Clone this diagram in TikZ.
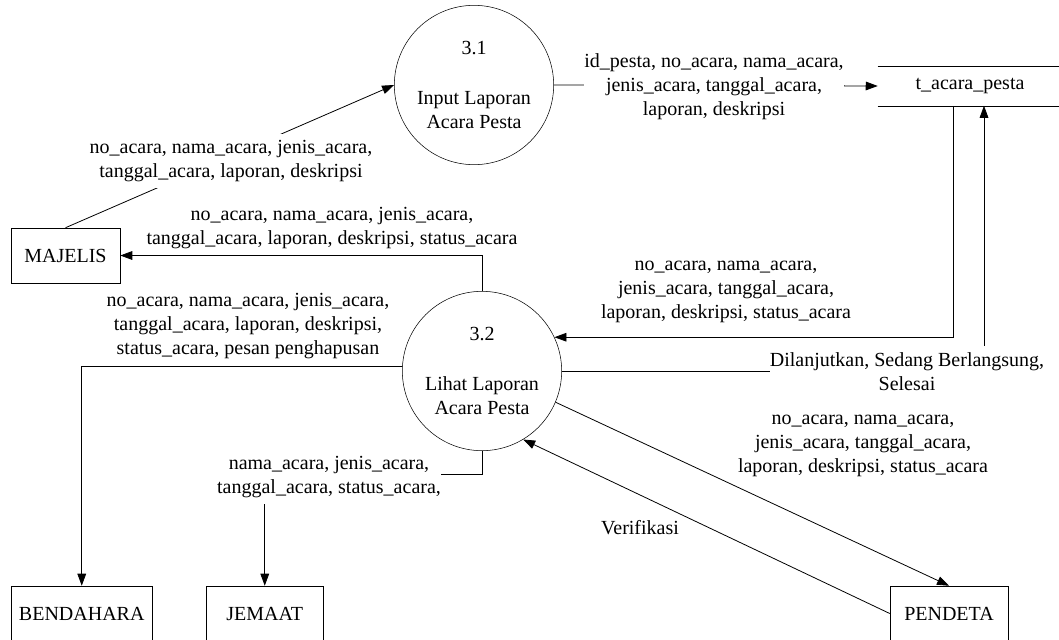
\documentclass[tikz,border=0pt]{standalone}
\usepackage{fontspec}
\setmainfont{Liberation Serif}
\usetikzlibrary{positioning,arrows.meta}

\begin{document}
\begin{tikzpicture}[x=0.75pt,y=0.75pt,font=\fontsize{15}{18}\selectfont]
	\tikzstyle{every node}+=[inner sep=0pt]
	\tikzstyle{proses}=[draw,circle,minimum size=119.5pt,align=center]
	\tikzstyle{entitas}=[draw,rectangle,minimum height=41.25pt]
	\tikzstyle{ket}=[fill=white,align=center,inner ysep=5pt]
	\tikzstyle{aliran}=[-{Triangle[length=9pt,width=6.5pt]},line width=0.6pt]
	\useasboundingbox (0,0) rectangle (1059,-639);
	\node [proses] (p31) at (474,-85) {3.1\\[19pt]Input Laporan\\Acara Pesta};
	\node [proses] (p32) at (482,-371) {3.2\\[19pt]Lihat Laporan\\Acara Pesta};
	\node [entitas,minimum width=81.75pt] (majelis) at (65.5,-255.5) {MAJELIS};
	\node [entitas,minimum width=105.4pt] (bendahara) at (81.75,-613.5) {BENDAHARA};
	\node [entitas,minimum width=87.4pt] (jemaat) at (264.75,-613.5) {JEMAAT};
	\node [entitas,minimum width=88.5pt] (pendeta) at (949,-613.5) {PENDETA};
	\node [minimum width=138pt,minimum height=29.25pt] (store) at (970,-86) {t\_acara\_pesta};
	\draw (store.north west) -- (store.north east);
	\draw (store.south west) -- (store.south east);
	\draw [aliran] (majelis.north) -- (p31.west);
	\draw [aliran] (p31.east) -- (store.west);
	\draw [aliran] (p32.north) |- (majelis.east);
	\draw [aliran] ([xshift=-12.75pt]store.south) |- (p32.25);
	\draw [aliran] (p32.east) -| ([xshift=10.5pt]store.south);
	\draw [aliran] (p32.177) -| (bendahara.north);
	\draw [aliran] (p32.south) -- ++(0,-23) -| (jemaat.north);
	\draw [aliran] (p32.-23) -- (pendeta.north);
	\draw [aliran] (pendeta.west) -- (p32.-59);
	\node [ket] (k1) at (231,-161) {no\_acara, nama\_acara, jenis\_acara,\\tanggal\_acara, laporan, deskripsi};
	\node [ket] (k2) at (714,-87) {id\_pesta, no\_acara, nama\_acara,\\jenis\_acara, tanggal\_acara,\\laporan, deskripsi};
	\node [ket] (k3) at (332,-228) {no\_acara, nama\_acara, jenis\_acara,\\tanggal\_acara, laporan, deskripsi, status\_acara};
	\node [ket] (k4) at (726,-292) {no\_acara, nama\_acara,\\jenis\_acara, tanggal\_acara,\\laporan, deskripsi, status\_acara};
	\node [ket] (k5) at (907,-372) {Dilanjutkan, Sedang Berlangsung,\\Selesai};
	\node [ket] (k6) at (248,-326) {no\_acara, nama\_acara, jenis\_acara,\\tanggal\_acara, laporan, deskripsi,\\status\_acara, pesan penghapusan};
	\node [ket] (k7) at (329,-477) {nama\_acara, jenis\_acara,\\tanggal\_acara, status\_acara,};
	\node [ket] (k8) at (863,-446) {no\_acara, nama\_acara,\\jenis\_acara, tanggal\_acara,\\laporan, deskripsi, status\_acara};
	\node [ket] (k9) at (640,-528) {Verifikasi};
\end{tikzpicture}
\end{document}
